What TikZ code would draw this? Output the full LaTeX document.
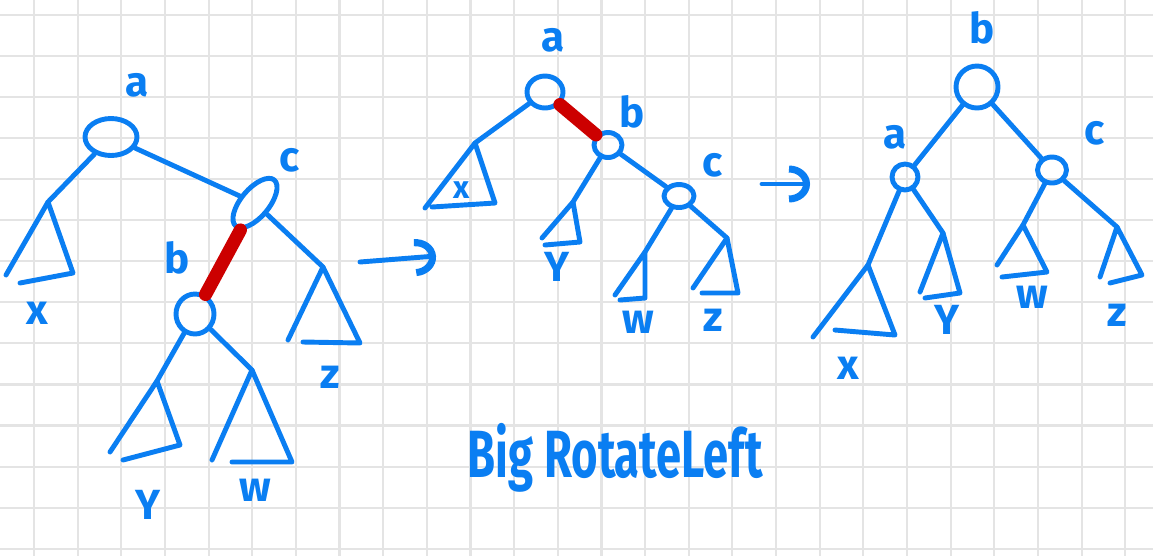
\documentclass[tikz,border=0pt]{standalone}
\usepackage{fontspec}
\setmainfont{Fira Sans}
\usepackage{graphicx}
\usetikzlibrary{arrows.meta,shapes.geometric}
\definecolor{penblue}{HTML}{0A7EF2}
\definecolor{penred}{HTML}{CC0000}
\definecolor{gridgray}{HTML}{E4E4E4}

\begin{document}
\begin{tikzpicture}[x=0.02cm, y=-0.02cm,
    pen/.style={draw=penblue, line width=2.8pt, line cap=round, line join=round},
    vert/.style={pen, ellipse, inner sep=0pt},
    hot/.style={draw=penred, line width=7.5pt, line cap=round},
    lbl/.style={text=penblue, font=\fontsize{24}{24}\selectfont\bfseries, inner sep=0pt},
    turn/.style={pen, -{Arc Barb[length=0.42cm, width=0.74cm, line width=4pt]}}]
    \useasboundingbox (0,0) rectangle (1153,556);
    % grid paper
    \fill[white] (0,0) rectangle (1153,556);
    \foreach \i in {0,...,25} {
        \draw[gridgray, line width=1.2pt] ({34+43.65*\i},0) -- ({34+43.65*\i},556);
    }
    \foreach \j in {0,...,13} {
        \draw[gridgray, line width=1.2pt] (0,{15+41.05*\j}) -- (1153,{15+41.05*\j});
    }

    % Left tree: before
    \node[vert, minimum width=1.04cm, minimum height=0.74cm] (la) at (111,137) {};
    \node[vert, minimum width=1.2cm, minimum height=0.56cm, rotate=50] (lc) at (255,203) {};
    \node[vert, minimum width=0.76cm, minimum height=0.8cm] (lb) at (195,314) {};
    \node[lbl] (la-t) at (137,85) {a};
    \node[lbl] (lc-t) at (290,160) {c};
    \node[lbl] (lb-t) at (177,258) {b};
    \coordinate (lx) at (48,202);
    \coordinate (ly) at (157,381);
    \coordinate (lw) at (252,370);
    \coordinate (lz) at (323,267);
    \draw[pen] (6,275) -- (lx) -- (73,273) -- (20,283);
    \draw[pen] (110,452) -- (ly) -- (180,445) -- (123,460);
    \draw[pen] (212,460) -- (lw) -- (292,462) -- (232,462);
    \draw[pen] (288,340) -- (lz) -- (360,343) -- (303,342);
    \node[lbl] (lx-t) at (37,313) {x};
    \node[lbl] (ly-t) at (148,505) {Y};
    \node[lbl] (lw-t) at (255,490) {w};
    \node[lbl] (lz-t) at (330,377) {z};
    \draw[pen] (la) -- (lx);
    \draw[pen] (la) -- (lc);
    \draw[hot] (lc) -- (lb);
    \draw[pen] (lb) -- (ly);
    \draw[pen] (lb) -- (lw);
    \draw[pen] (lc) -- (lz);

    % Arrow
    \coordinate (t1s) at (360,262);
    \coordinate (t1e) at (436,256);
    \draw[turn] (t1s) -- (t1e);

    % Middle tree: after first rotation
    \node[vert, minimum width=0.72cm, minimum height=0.64cm] (ma) at (545,92) {};
    \node[vert, minimum width=0.56cm, minimum height=0.5cm] (mb) at (608,145) {};
    \node[vert, minimum width=0.6cm, minimum height=0.46cm] (mc) at (679,196) {};
    \node[lbl] (ma-t) at (553,40) {a};
    \node[lbl] (mb-t) at (632,112) {b};
    \node[lbl] (mc-t) at (713,165) {c};
    \coordinate (mx) at (475,143);
    \coordinate (my) at (573,202);
    \coordinate (mw) at (645,252);
    \coordinate (mz) at (727,238);
    \draw[pen] (425,208) -- (mx) -- (495,203) -- (432,207);
    \draw[pen] (542,238) -- (my) -- (580,242) -- (545,245);
    \draw[pen] (615,295) -- (mw) -- (645,298) -- (620,300);
    \draw[pen] (693,288) -- (mz) -- (738,293) -- (702,293);
    \node[lbl, font=\fontsize{18}{18}\selectfont\bfseries] (mx-t) at (462,190) {x};
    \node[lbl] (my-t) at (557,267) {Y};
    \node[lbl] (mw-t) at (638,322) {w};
    \node[lbl] (mz-t) at (713,320) {z};
    \draw[pen] (ma) -- (mx);
    \draw[hot] (ma) -- (mb);
    \draw[pen] (mb) -- (my);
    \draw[pen] (mb) -- (mc);
    \draw[pen] (mc) -- (mw);
    \draw[pen] (mc) -- (mz);

    % Arrow
    \coordinate (t2s) at (762,184);
    \coordinate (t2e) at (810,184);
    \draw[turn] (t2s) -- (t2e);

    % Right tree: result
    \node[vert, minimum size=0.84cm] (rb) at (977,87) {};
    \node[vert, minimum size=0.52cm] (ra) at (905,177) {};
    \node[vert, minimum width=0.58cm, minimum height=0.52cm] (rc) at (1052,170) {};
    \node[lbl] (rb-t) at (982,28) {b};
    \node[lbl] (ra-t) at (895,137) {a};
    \node[lbl] (rc-t) at (1095,133) {c};
    \coordinate (rx) at (868,265);
    \coordinate (ry) at (943,233);
    \coordinate (rw) at (1023,225);
    \coordinate (rz) at (1117,227);
    \draw[pen] (813,337) -- (rx) -- (895,335) -- (835,330);
    \draw[pen] (920,292) -- (ry) -- (960,293) -- (925,298);
    \draw[pen] (997,265) -- (rw) -- (1047,272) -- (1002,277);
    \draw[pen] (1100,277) -- (rz) -- (1142,275) -- (1110,283);
    \node[lbl] (rx-t) at (848,368) {x};
    \node[lbl] (ry-t) at (947,320) {Y};
    \node[lbl] (rw-t) at (1032,297) {w};
    \node[lbl] (rz-t) at (1117,315) {z};
    \draw[pen] (rb) -- (ra);
    \draw[pen] (rb) -- (rc);
    \draw[pen] (ra) -- (rx);
    \draw[pen] (ra) -- (ry);
    \draw[pen] (rc) -- (rw);
    \draw[pen] (rc) -- (rz);

    % Caption
    \node[lbl, font=\fontsize{38}{38}\selectfont\bfseries] (title) at (615,458) {\scalebox{0.68}[1]{Big RotateLeft}};
\end{tikzpicture}
\end{document}
